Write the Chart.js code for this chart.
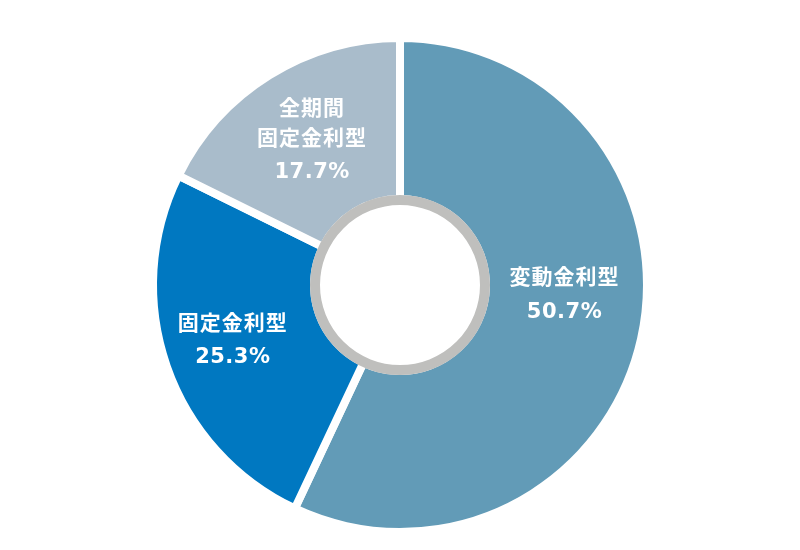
<!DOCTYPE html>
<html lang="ja">
<head>
<meta charset="utf-8">
<title>金利タイプ別の割合</title>
<script src="https://cdn.jsdelivr.net/npm/chart.js@4/dist/chart.umd.min.js"></script>
<style>
  html, body { margin:0; padding:0; background:#fff; }
  #wrap { width:800px; height:550px; }
</style>
</head>
<body>
<div id="wrap"><canvas id="chartDonut" width="800" height="550"></canvas></div>
<script>
// ===============================
// Data
// ===============================
const categories = [["変動金利型"], ["固定金利型"], ["全期間", "固定金利型"]];
const shareText  = ["50.7%", "25.3%", "17.7%"];   // text printed in each slice
const sliceSize  = [57.0, 25.3, 17.7];            // drawn slice size (%)
const colors     = ["#629bb7", "#0078c1", "#a9bccb"];

// Gray ring around the hole
const innerRing = {
  id: "innerRing",
  afterDatasetsDraw(chart) {
    const arc = chart.getDatasetMeta(0).data[0];
    if (!arc) return;
    const { x, y, innerRadius } = arc.getProps(["x", "y", "innerRadius"], true);
    const ctx = chart.ctx;
    ctx.save();
    ctx.beginPath();
    ctx.arc(x, y, innerRadius - 1, 0, Math.PI * 2);
    ctx.lineWidth = 10;
    ctx.strokeStyle = "#bfbfbd";
    ctx.stroke();
    ctx.restore();
  }
};

// White labels inside the slices
const sliceLabels = {
  id: "sliceLabels",
  afterDraw(chart) {
    const ctx = chart.ctx;
    const nudge = [[2, -27], [-10, 0], [0, -4]];
    chart.getDatasetMeta(0).data.forEach((arc, i) => {
      const p = arc.getCenterPoint(true);
      const lines = categories[i].map(t => ({ t, font: "bold 21px 'Noto Sans CJK JP'", sp: "1px", gap: 30 }));
      lines.push({ t: shareText[i], font: "bold 21px 'DejaVu Sans'", sp: "0.5px", gap: 36 });
      // vertical layout of the block
      let ys = [0];
      for (let k = 1; k < lines.length; k++) ys.push(ys[k - 1] + lines[k].gap);
      const total = ys[ys.length - 1];
      const cx = p.x + nudge[i][0];
      const cy = p.y + nudge[i][1] - total / 2;
      ctx.save();
      ctx.fillStyle = "#ffffff";
      ctx.textAlign = "center";
      ctx.textBaseline = "middle";
      lines.forEach((l, k) => {
        ctx.font = l.font;
        ctx.letterSpacing = l.sp;
        ctx.fillText(l.t, cx, cy + ys[k]);
      });
      ctx.restore();
    });
  }
};

new Chart(document.getElementById("chartDonut"), {
  type: "doughnut",
  data: {
    labels: categories,
    datasets: [{
      data: sliceSize,
      backgroundColor: colors,
      borderColor: "#ffffff",
      borderWidth: 8
    }]
  },
  options: {
    responsive: false,
    animation: false,
    events: [],
    cutout: 86,
    layout: { padding: { top: 34, bottom: 14, left: 0, right: 0 } },
    plugins: {
      legend: { display: false },
      tooltip: { enabled: false }
    }
  },
  plugins: [innerRing, sliceLabels]
});
</script>
</body>
</html>
